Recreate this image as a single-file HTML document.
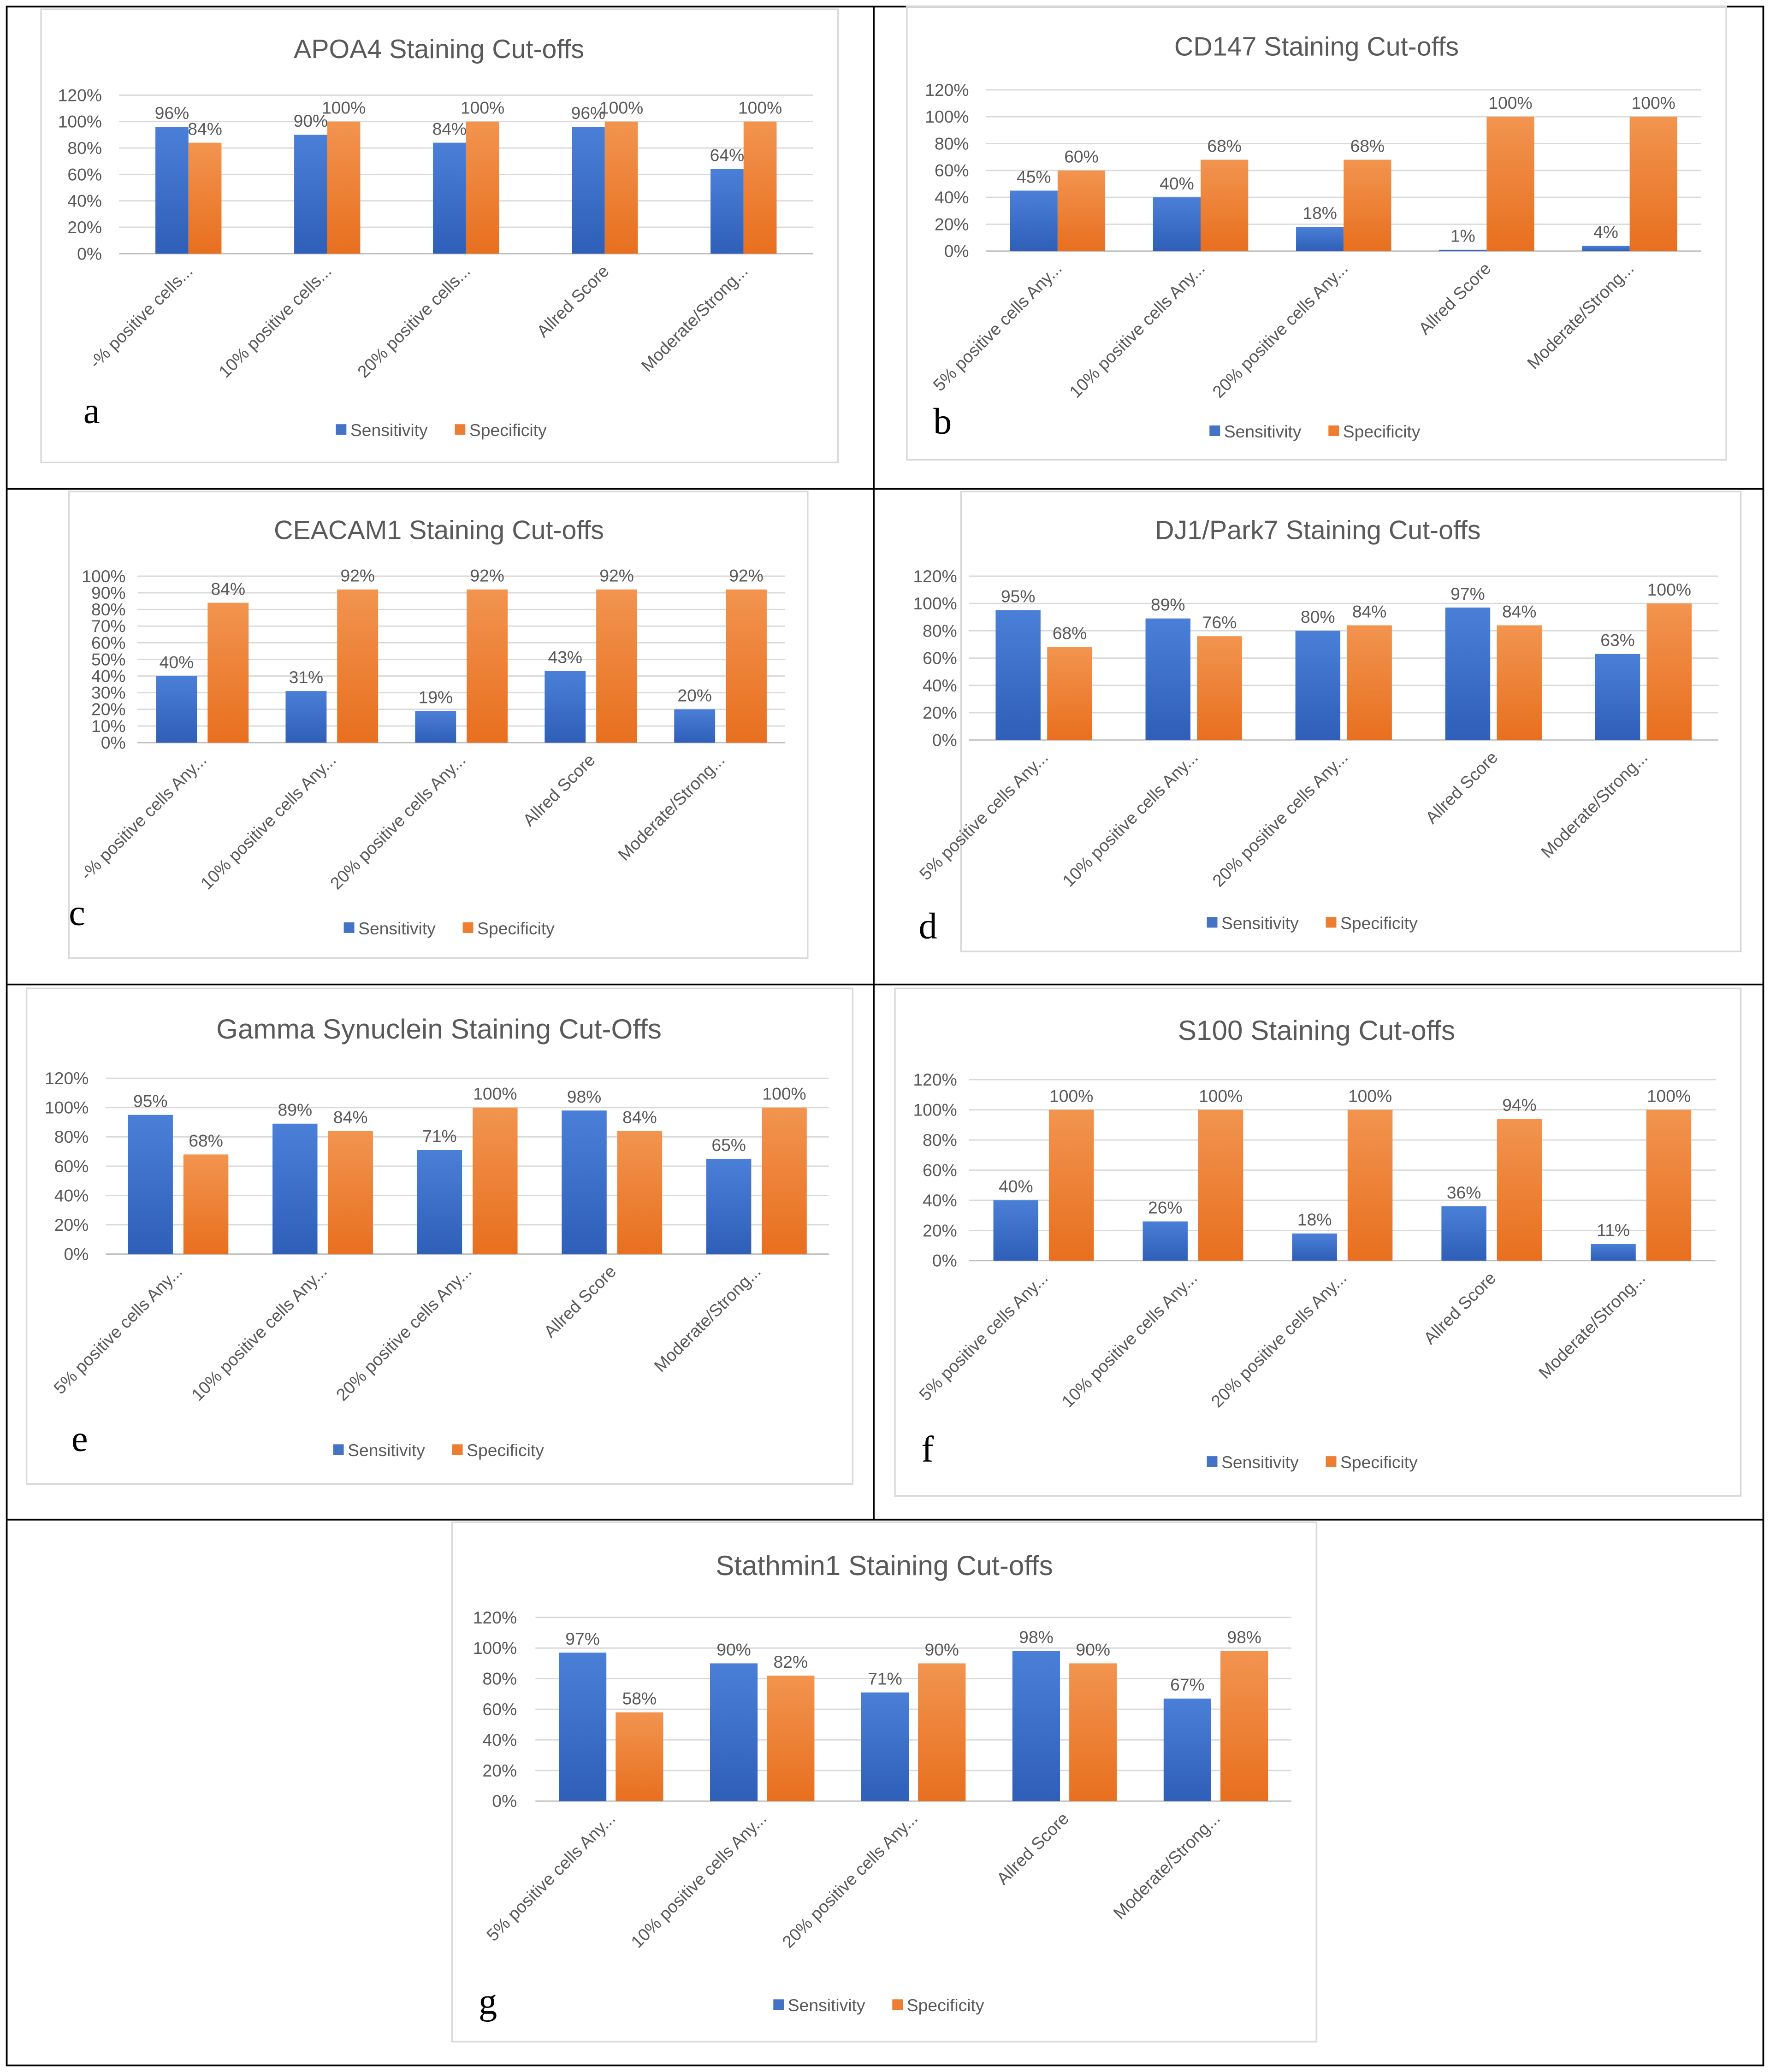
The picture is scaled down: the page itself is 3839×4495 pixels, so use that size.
<!DOCTYPE html>
<html><head><meta charset="utf-8"><style>
html,body{margin:0;padding:0;background:#fff}
svg{display:block}
text{font-family:"Liberation Sans",sans-serif}
text.letter{font-family:"Liberation Serif",serif}
</style></head><body>
<svg id="fig" width="3839" height="4495" viewBox="0 0 1339 1568" xmlns="http://www.w3.org/2000/svg">
<defs>
<linearGradient id="gb" x1="0" y1="0" x2="0" y2="1"><stop offset="0" stop-color="#4a7fd8"/><stop offset="1" stop-color="#2f5fb8"/></linearGradient>
<linearGradient id="go" x1="0" y1="0" x2="0" y2="1"><stop offset="0" stop-color="#f2944f"/><stop offset="1" stop-color="#e86f1f"/></linearGradient>
</defs>
<g stroke="#000" stroke-width="1.3" fill="none">
<rect x="5" y="5" width="1329" height="1558"/>
<line x1="5" y1="370" x2="1334" y2="370"/>
<line x1="5" y1="745" x2="1334" y2="745"/>
<line x1="5" y1="1150" x2="1334" y2="1150"/>
<line x1="661" y1="5" x2="661" y2="1150"/>
</g>
</svg>
<script>
const catsA = ["-% positive cells...","10% positive cells...","20% positive cells...","Allred Score","Moderate/Strong..."];
const catsAny = ["5% positive cells Any...","10% positive cells Any...","20% positive cells Any...","Allred Score","Moderate/Strong..."];
const catsC = ["-% positive cells Any...","10% positive cells Any...","20% positive cells Any...","Allred Score","Moderate/Strong..."];
const sensA = [96,90,84,96,64];
const specA = [84,100,100,100,100];
const sensB = [45,40,18,1,4];
const specB = [60,68,68,100,100];
const sensC = [40,31,19,43,20];
const specC = [84,92,92,92,92];
const sensD = [95,89,80,97,63];
const specD = [68,76,84,84,100];
const sensE = [95,89,71,98,65];
const specE = [68,84,100,84,100];
const sensF = [40,26,18,36,11];
const specF = [100,100,100,94,100];
const sensG = [97,90,71,98,67];
const specG = [58,82,90,90,98];
const ticks120 = [0,20,40,60,80,100,120];
const ticks100 = [0,10,20,30,40,50,60,70,80,90,100];

const NS="http://www.w3.org/2000/svg";
const svg=document.getElementById('fig');
function mk(tag,attrs,parent){const e=document.createElementNS(NS,tag);for(const k in attrs)e.setAttribute(k,attrs[k]);(parent||svg).appendChild(e);return e;}

const panels=[
 {id:'a',title:'APOA4 Staining Cut-offs',cats:catsA,s:sensA,p:specA,ticks:ticks120,max:120,
  frame:[31,7,603,343],tx:332,ty:37,x0:90,x1:615,y0:192,y1:72,bw:25,gap:0,lab:77,lx:63,ly:320,legY:325,legX:254,fs:20},
 {id:'b',title:'CD147 Staining Cut-offs',cats:catsAny,s:sensB,p:specB,ticks:ticks120,max:120,
  frame:[686,5,620,343],tx:996,ty:35,x0:746,x1:1287,y0:190,y1:68,bw:36,gap:0,lab:733,lx:706,ly:328,legY:326,legX:915,fs:20},
 {id:'c',title:'CEACAM1 Staining Cut-offs',cats:catsC,s:sensC,p:specC,ticks:ticks100,max:100,
  frame:[52,372,559,353],tx:332,ty:401,x0:104,x1:594,y0:562,y1:436,bw:31,gap:8,lab:95,lx:52,ly:700,legY:702,legX:260,fs:20},
 {id:'d',title:'DJ1/Park7 Staining Cut-offs',cats:catsAny,s:sensD,p:specD,ticks:ticks120,max:120,
  frame:[727,372,590,348],tx:997,ty:401,x0:733,x1:1300,y0:560,y1:436,bw:34,gap:5,lab:724,lx:695,ly:710,legY:698,legX:913,fs:20},
 {id:'e',title:'Gamma Synuclein Staining Cut-Offs',cats:catsAny,s:sensE,p:specE,ticks:ticks120,max:120,
  frame:[20,748,625,375],tx:332,ty:779,x0:80,x1:627,y0:949,y1:816,bw:34,gap:8,lab:67,lx:54,ly:1098,legY:1097,legX:252,fs:21},
 {id:'f',title:'S100 Staining Cut-offs',cats:catsAny,s:sensF,p:specF,ticks:ticks120,max:120,
  frame:[677,748,640,384],tx:996,ty:780,x0:733,x1:1298,y0:954,y1:817,bw:34,gap:8,lab:724,lx:697,ly:1106,legY:1106,legX:913,fs:21},
 {id:'g',title:'Stathmin1 Staining Cut-offs',cats:catsAny,s:sensG,p:specG,ticks:ticks120,max:120,
  frame:[342,1152,654,393],tx:669,ty:1185,x0:405,x1:977,y0:1363,y1:1224,bw:36,gap:7,lab:391,lx:362,ly:1524,legY:1517,legX:585,fs:21}
];

panels.forEach(P=>{
 const g=mk('g',{});
 
 
 const fr=mk('rect',{x:P.frame[0],y:P.frame[1],width:P.frame[2],height:P.frame[3],fill:'none',stroke:'#d9d9d9','stroke-width':1.2},g);
 
 
 const t=mk('text',{x:P.tx,y:P.ty+7,'text-anchor':'middle','font-size':P.fs,fill:'#595959'},g);
 t.textContent=P.title;
 
 
 const yv=v=>P.y0-(v/P.max)*(P.y0-P.y1);
 P.ticks.forEach(v=>{
  const y=yv(v);
  const l=mk('line',{x1:P.x0,x2:P.x1,y1:y,y2:y,stroke:v===0?'#bfbfbf':'#d9d9d9','stroke-width':1},g);
  
  
  const tl=mk('text',{x:P.lab,y:y+4.5,'text-anchor':'end','font-size':13,fill:'#595959'},g);
  tl.textContent=v+'%';
  
  
 });
 const step=(P.x1-P.x0)/P.cats.length;
 const xc=i=>P.x0+step*(i+0.5);
 P.cats.forEach((c,i)=>{
  const cx=xc(i);
  [[P.s[i],'url(#gb)',-1,'bar-sensitivity'],[P.p[i],'url(#go)',1,'bar-specificity']].forEach(([v,f,side,nm])=>{
   const x=side<0?cx-P.gap/2-P.bw:cx+P.gap/2;
   const y=yv(v);
   const r=mk('rect',{x:x,y:y,width:P.bw,height:P.y0-y,fill:f},g);
   
   
   const dl=mk('text',{x:x+P.bw/2,y:y-6,'text-anchor':'middle','font-size':13,fill:'#595959'},g);
   dl.textContent=v+'%';
   
   
  });
  const xl=mk('text',{x:cx+4,y:P.y0+14,'text-anchor':'end','font-size':13,fill:'#595959',transform:`rotate(-45 ${cx+4} ${P.y0+14})`},g);
  xl.textContent=c;
  
  
 });
 const lg=mk('g',{},g);
 
 
 mk('rect',{x:P.legX,y:P.legY-4,width:8,height:8,fill:'#4472c4'},lg);
 const l1=mk('text',{x:P.legX+11,y:P.legY+5,'font-size':13,fill:'#595959'},lg);
 l1.textContent='Sensitivity';
 
 
 mk('rect',{x:P.legX+90,y:P.legY-4,width:8,height:8,fill:'#ed7d31'},lg);
 const l2=mk('text',{x:P.legX+101,y:P.legY+5,'font-size':13,fill:'#595959'},lg);
 l2.textContent='Specificity';
 
 
 const pl=mk('text',{x:P.lx,y:P.ly,'font-size':28,fill:'#000','class':'letter'},g);
 pl.textContent=P.id;
 
 
});
</script>
</body></html>
